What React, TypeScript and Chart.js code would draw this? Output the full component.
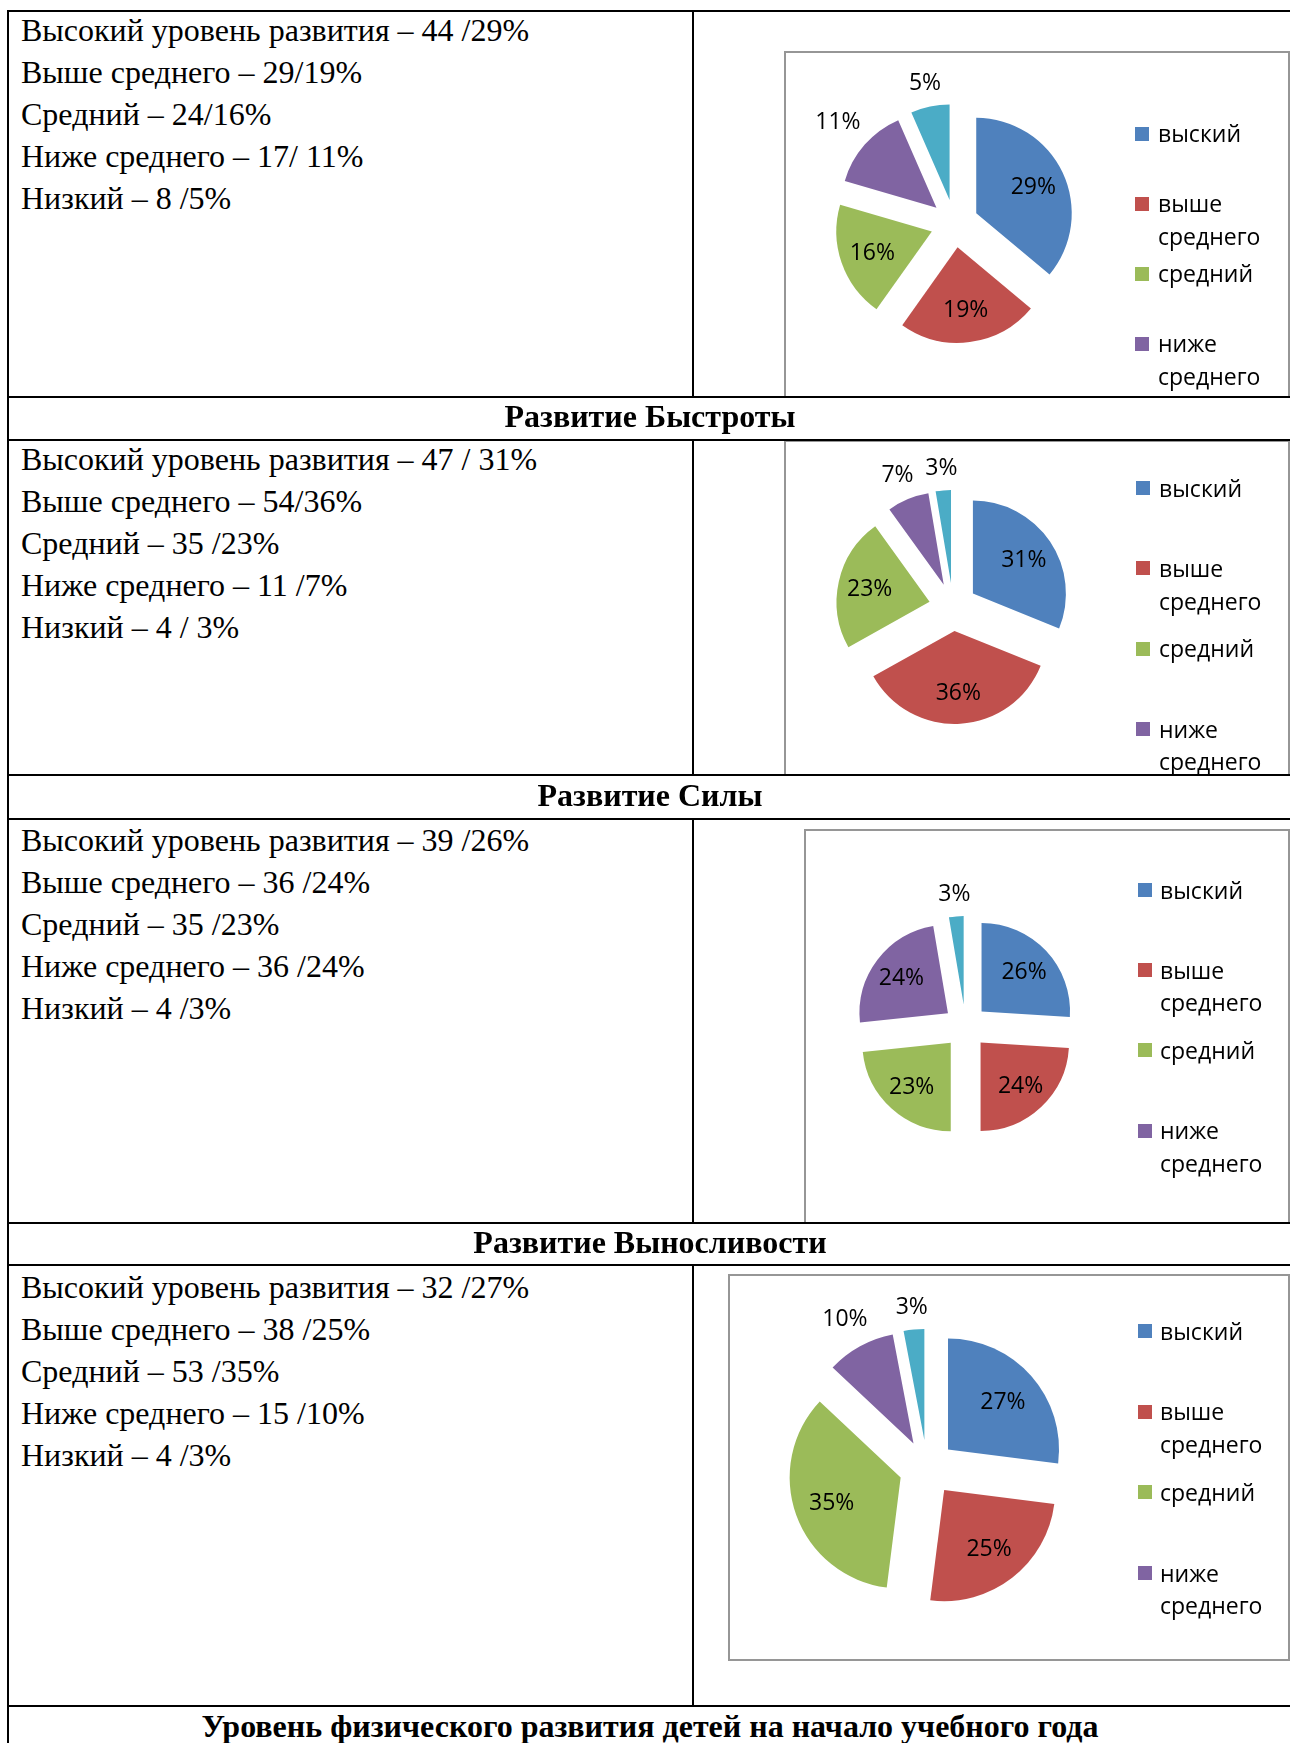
import React, { useEffect, useRef } from "react";
import { Chart, registerables } from "chart.js";

Chart.register(...registerables);

// ---------- DATA ----------
const categoryNames = ["выский", "выше среднего", "средний", "ниже среднего", "низкий"];
const sliceColors = ["#4F81BD", "#C0504D", "#9BBB59", "#8064A2", "#4BACC6"];
const legendShown = 4;

const row1Lines = [
  "Высокий уровень развития – 44 /29%",
  "Выше среднего – 29/19%",
  "Средний – 24/16%",
  "Ниже среднего – 17/ 11%",
  "Низкий – 8 /5%",
];
const row1Values = [44, 29, 24, 17, 8];
const row1Labels = ["29%", "19%", "16%", "11%", "5%"];

const row2Lines = [
  "Высокий уровень развития – 47 / 31%",
  "Выше среднего – 54/36%",
  "Средний – 35 /23%",
  "Ниже среднего – 11 /7%",
  "Низкий – 4 / 3%",
];
const row2Values = [47, 54, 35, 11, 4];
const row2Labels = ["31%", "36%", "23%", "7%", "3%"];

const row3Lines = [
  "Высокий уровень развития – 39 /26%",
  "Выше среднего – 36 /24%",
  "Средний – 35 /23%",
  "Ниже среднего – 36 /24%",
  "Низкий – 4 /3%",
];
const row3Values = [39, 36, 35, 36, 4];
const row3Labels = ["26%", "24%", "23%", "24%", "3%"];

const row4Lines = [
  "Высокий уровень развития – 32 /27%",
  "Выше среднего – 38 /25%",
  "Средний – 53 /35%",
  "Ниже среднего – 15 /10%",
  "Низкий – 4 /3%",
];
const row4Values = [27, 25, 35, 10, 3];
const row4Labels = ["27%", "25%", "35%", "10%", "3%"];

const headerTexts = [
  "Развитие Быстроты",
  "Развитие Силы",
  "Развитие Выносливости",
  "Уровень физического развития детей на начало учебного года",
];

// ---------- LAYOUT ----------
const hLines = [10, 396, 439, 774, 818, 1222, 1264, 1705];
const colSegments = [
  [10, 398],
  [439, 776],
  [818, 1224],
  [1264, 1707],
];
const textTops = [9, 438, 819, 1266];
const headerCenters = [419, 798, 1245, 1729];

const charts = [
  {
    values: row1Values, labels: row1Labels,
    box: { left: 784, top: 51, right: 1290, bottom: 398 },
    cx: 954, cy: 223, r: 95.5, d: 24,
    legend: { sq: 1135, tx: 1158, y0: 133.5, pitch: 70 },
  },
  {
    values: row2Values, labels: row2Labels,
    box: { left: 784, top: 440, right: 1290, bottom: 776 },
    cx: 953, cy: 607, r: 93, d: 24,
    legend: { sq: 1136, tx: 1159, y0: 488, pitch: 80.3 },
  },
  {
    values: row3Values, labels: row3Labels,
    box: { left: 804, top: 829, right: 1290, bottom: 1224 },
    cx: 965, cy: 1026, r: 88.5, d: 22,
    legend: { sq: 1138, tx: 1160, y0: 890, pitch: 80.2 },
  },
  {
    values: row4Values, labels: row4Labels,
    box: { left: 728, top: 1274, right: 1290, bottom: 1661 },
    cx: 927, cy: 1468, r: 111, d: 28,
    legend: { sq: 1138, tx: 1160, y0: 1331, pitch: 80.6 },
  },
];

const rowsText = [row1Lines, row2Lines, row3Lines, row4Lines];

const LABEL_FONT = '23px "Open Sans"';

function makeExplodePlugin(explode: number) {
  return {
    id: "explodeSlices",
    beforeDatasetDraw(chart: any, args: any) {
      const ctx = chart.ctx;
      args.meta.data.forEach((arc: any) => {
        const { startAngle, endAngle } = arc.getProps(["startAngle", "endAngle"], true);
        const mid = (startAngle + endAngle) / 2;
        ctx.save();
        ctx.translate(Math.cos(mid) * explode, Math.sin(mid) * explode);
        arc.draw(ctx, chart.chartArea);
        ctx.restore();
      });
      return false;
    },
  };
}

function makeLabelPlugin(labels: string[], explode: number) {
  return {
    id: "sliceLabels",
    afterDatasetsDraw(chart: any) {
      const ctx = chart.ctx;
      const meta = chart.getDatasetMeta(0);
      ctx.save();
      ctx.font = LABEL_FONT;
      ctx.fillStyle = "#000";
      ctx.textAlign = "center";
      ctx.textBaseline = "middle";
      meta.data.forEach((arc: any, i: number) => {
        const { x, y, startAngle, endAngle, outerRadius } = arc.getProps(
          ["x", "y", "startAngle", "endAngle", "outerRadius"],
          true
        );
        const mid = (startAngle + endAngle) / 2;
        const span = endAngle - startAngle;
        const c = Math.cos(mid);
        const s = Math.sin(mid);
        const vx = x + c * explode;
        const vy = y + s * explode;
        const text = labels[i];
        const w = ctx.measureText(text).width;
        const h = 17;
        let dist: number;
        if (span < Math.PI / 3) {
          dist = outerRadius + 13 + Math.abs(c) * w / 2 + Math.abs(s) * h / 2;
        } else {
          dist = outerRadius * 0.66;
        }
        ctx.fillText(text, vx + c * dist, vy + s * dist + 1);
      });
      ctx.restore();
    },
  };
}

function PieChart(props: { values: number[]; labels: string[]; cx: number; cy: number; r: number; d: number }) {
  const ref = useRef<HTMLCanvasElement>(null);
  const size = Math.round(2 * (props.r + props.d + 80));
  const left = Math.round(props.cx - size / 2);
  const top = Math.round(props.cy - size / 2);
  useEffect(() => {
    if (!ref.current) return;
    const chart = new Chart(ref.current, {
      type: "pie",
      data: {
        labels: categoryNames,
        datasets: [
          {
            data: props.values,
            backgroundColor: sliceColors,
            borderWidth: 0,
            radius: props.r,
            hoverOffset: 0,
          } as any,
        ],
      },
      options: {
        responsive: false,
        animation: false,
        events: [],
        layout: { padding: 0 },
        plugins: { legend: { display: false }, tooltip: { enabled: false } },
      } as any,
      plugins: [makeExplodePlugin(props.d), makeLabelPlugin(props.labels, props.d)],
    });
    return () => chart.destroy();
  }, []);
  return (
    <canvas
      ref={ref}
      width={size}
      height={size}
      style={{ position: "absolute", left, top, width: size, height: size }}
    />
  );
}

function Legend(props: { sq: number; tx: number; y0: number; pitch: number }) {
  const items = categoryNames.slice(0, legendShown);
  return (
    <>
      {items.map((name, i) => {
        const cy = props.y0 + i * props.pitch;
        return (
          <React.Fragment key={i}>
            <div
              style={{
                position: "absolute",
                left: props.sq,
                top: cy - 7,
                width: 14,
                height: 14,
                background: sliceColors[i],
              }}
            />
            <div
              style={{
                position: "absolute",
                left: props.tx,
                top: cy - 16.25,
                width: 125,
                font: LABEL_FONT,
                lineHeight: "32.5px",
                color: "#000",
              }}
            >
              {name}
            </div>
          </React.Fragment>
        );
      })}
    </>
  );
}

export default function App() {
  return (
    <div
      style={{
        position: "absolute",
        left: 0,
        top: 0,
        width: 1290,
        height: 1743,
        overflow: "hidden",
        background: "#fff",
      }}
    >
      {charts.map((c, i) => (
        <React.Fragment key={i}>
          <div
            style={{
              position: "absolute",
              left: c.box.left,
              top: c.box.top,
              width: c.box.right - c.box.left,
              height: c.box.bottom - c.box.top,
              border: "2px solid #969696",
              boxSizing: "border-box",
            }}
          />
          <PieChart values={c.values} labels={c.labels} cx={c.cx} cy={c.cy} r={c.r} d={c.d} />
          <Legend {...c.legend} />
        </React.Fragment>
      ))}

      {rowsText.map((lines, i) => (
        <div
          key={"t" + i}
          style={{
            position: "absolute",
            left: 21,
            top: textTops[i],
            font: '32px "Liberation Serif"',
            lineHeight: "42px",
            whiteSpace: "nowrap",
            color: "#000",
          }}
        >
          {lines.map((l, j) => (
            <div key={j}>{l}</div>
          ))}
        </div>
      ))}

      {headerTexts.map((h, i) => (
        <div
          key={"h" + i}
          style={{
            position: "absolute",
            left: 8,
            width: 1284,
            top: headerCenters[i] - 21,
            height: 42,
            lineHeight: "42px",
            textAlign: "center",
            font: 'bold 32px "Liberation Serif"',
            whiteSpace: "nowrap",
            color: "#000",
          }}
        >
          {h}
        </div>
      ))}

      {hLines.map((y, i) => (
        <div
          key={"hl" + i}
          style={{ position: "absolute", left: 7, top: y, width: 1290, height: 2, background: "#000" }}
        />
      ))}
      <div style={{ position: "absolute", left: 7, top: 10, width: 2, height: 1743, background: "#000" }} />
      {colSegments.map(([a, b], i) => (
        <div
          key={"cs" + i}
          style={{ position: "absolute", left: 692, top: a, width: 2, height: b - a, background: "#000" }}
        />
      ))}
    </div>
  );
}
